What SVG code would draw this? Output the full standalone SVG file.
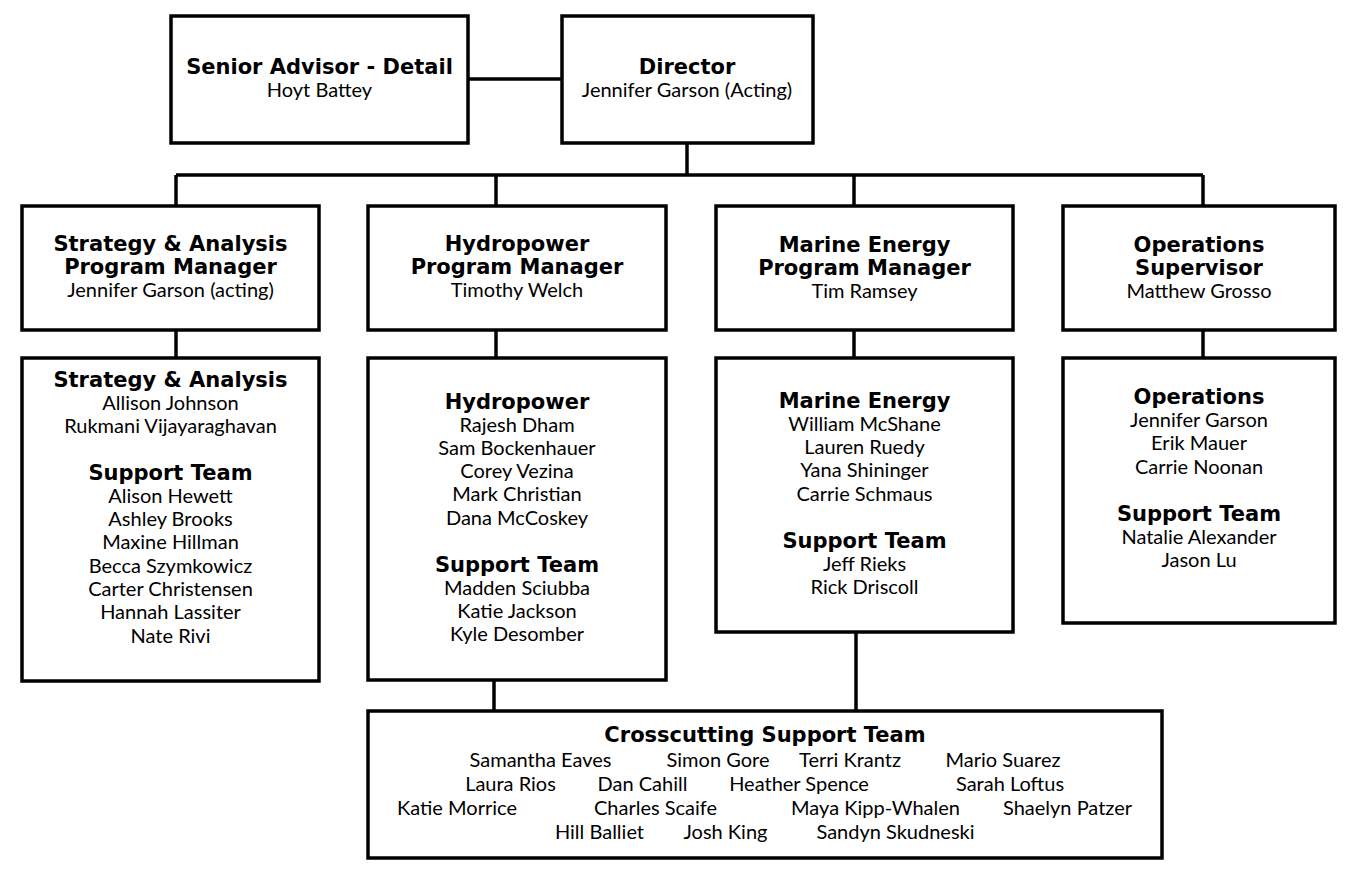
<svg xmlns="http://www.w3.org/2000/svg" width="1350" height="871" viewBox="0 0 1350 871">
<style>
.box{fill:#fff;stroke:#000;stroke-width:3.5}
.ln{stroke:#000;stroke-width:3.5;fill:none}
text{text-anchor:middle;fill:#000}
.b{font-family:"DejaVu Sans",Verdana,sans-serif;font-weight:bold;font-size:21px}
.r{font-family:Lato,"Liberation Sans",sans-serif;font-size:20px}
</style>
<rect width="1350" height="871" fill="#fff"/>
<g id="connectors">
<line class="ln" x1="468" y1="79" x2="562" y2="79"/>
<line class="ln" x1="687" y1="143" x2="687" y2="175"/>
<line class="ln" x1="176" y1="175" x2="1203" y2="175"/>
<line class="ln" x1="176" y1="175" x2="176" y2="206"/>
<line class="ln" x1="496" y1="175" x2="496" y2="206"/>
<line class="ln" x1="854" y1="175" x2="854" y2="206"/>
<line class="ln" x1="1203" y1="175" x2="1203" y2="206"/>
<line class="ln" x1="176" y1="330" x2="176" y2="358"/>
<line class="ln" x1="496" y1="330" x2="496" y2="358"/>
<line class="ln" x1="854" y1="330" x2="854" y2="358"/>
<line class="ln" x1="1203" y1="330" x2="1203" y2="358"/>
<line class="ln" x1="494" y1="680" x2="494" y2="711"/>
<line class="ln" x1="856" y1="632" x2="856" y2="711"/>
</g>
<g id="senior-advisor">
<rect class="box" x="171" y="16" width="297" height="127"/>
<text class="b" x="319.5" y="74">Senior Advisor - Detail</text>
<text class="r" x="319.5" y="97">Hoyt Battey</text>
</g>
<g id="director">
<rect class="box" x="562" y="16" width="251" height="127"/>
<text class="b" x="687" y="74">Director</text>
<text class="r" x="687" y="97">Jennifer Garson (Acting)</text>
</g>
<g id="sa-pm">
<rect class="box" x="22" y="206" width="297" height="124"/>
<text class="b" x="170.5" y="251">Strategy &amp; Analysis</text>
<text class="b" x="170.5" y="274">Program Manager</text>
<text class="r" x="170.5" y="297">Jennifer Garson (acting)</text>
</g>
<g id="hydro-pm">
<rect class="box" x="368" y="206" width="298" height="124"/>
<text class="b" x="517" y="251">Hydropower</text>
<text class="b" x="517" y="274">Program Manager</text>
<text class="r" x="517" y="297">Timothy Welch</text>
</g>
<g id="marine-pm">
<rect class="box" x="716" y="206" width="297" height="124"/>
<text class="b" x="864.5" y="252">Marine Energy</text>
<text class="b" x="864.5" y="275">Program Manager</text>
<text class="r" x="864.5" y="298">Tim Ramsey</text>
</g>
<g id="ops-sup">
<rect class="box" x="1063" y="206" width="272" height="124"/>
<text class="b" x="1199" y="252">Operations</text>
<text class="b" x="1199" y="275">Supervisor</text>
<text class="r" x="1199" y="298">Matthew Grosso</text>
</g>
<g id="sa-team">
<rect class="box" x="22" y="358" width="297" height="323"/>
<text class="b" x="170.5" y="387">Strategy &amp; Analysis</text>
<text class="r" x="170.5" y="410">Allison Johnson</text>
<text class="r" x="170.5" y="433">Rukmani Vijayaraghavan</text>
<text class="b" x="170.5" y="480">Support Team</text>
<text class="r" x="170.5" y="503">Alison Hewett</text>
<text class="r" x="170.5" y="526">Ashley Brooks</text>
<text class="r" x="170.5" y="549">Maxine Hillman</text>
<text class="r" x="170.5" y="573">Becca Szymkowicz</text>
<text class="r" x="170.5" y="596">Carter Christensen</text>
<text class="r" x="170.5" y="619">Hannah Lassiter</text>
<text class="r" x="170.5" y="643">Nate Rivi</text>
</g>
<g id="hydro-team">
<rect class="box" x="368" y="358" width="298" height="322"/>
<text class="b" x="517" y="409">Hydropower</text>
<text class="r" x="517" y="432">Rajesh Dham</text>
<text class="r" x="517" y="455">Sam Bockenhauer</text>
<text class="r" x="517" y="478">Corey Vezina</text>
<text class="r" x="517" y="501">Mark Christian</text>
<text class="r" x="517" y="525">Dana McCoskey</text>
<text class="b" x="517" y="572">Support Team</text>
<text class="r" x="517" y="595">Madden Sciubba</text>
<text class="r" x="517" y="618">Katie Jackson</text>
<text class="r" x="517" y="641">Kyle Desomber</text>
</g>
<g id="marine-team">
<rect class="box" x="716" y="358" width="297" height="274"/>
<text class="b" x="864.5" y="408">Marine Energy</text>
<text class="r" x="864.5" y="431">William McShane</text>
<text class="r" x="864.5" y="454">Lauren Ruedy</text>
<text class="r" x="864.5" y="477">Yana Shininger</text>
<text class="r" x="864.5" y="501">Carrie Schmaus</text>
<text class="b" x="864.5" y="548">Support Team</text>
<text class="r" x="864.5" y="571">Jeff Rieks</text>
<text class="r" x="864.5" y="594">Rick Driscoll</text>
</g>
<g id="ops-team">
<rect class="box" x="1063" y="358" width="272" height="265"/>
<text class="b" x="1199" y="404">Operations</text>
<text class="r" x="1199" y="427">Jennifer Garson</text>
<text class="r" x="1199" y="450">Erik Mauer</text>
<text class="r" x="1199" y="474">Carrie Noonan</text>
<text class="b" x="1199" y="521">Support Team</text>
<text class="r" x="1199" y="544">Natalie Alexander</text>
<text class="r" x="1199" y="567">Jason Lu</text>
</g>
<g id="crosscutting">
<rect class="box" x="368" y="711" width="794" height="147"/>
<text class="b" x="765" y="742">Crosscutting Support Team</text>
<text class="r" x="540.5" y="767">Samantha Eaves</text>
<text class="r" x="718" y="767">Simon Gore</text>
<text class="r" x="850" y="767">Terri Krantz</text>
<text class="r" x="1003" y="767">Mario Suarez</text>
<text class="r" x="510.5" y="791">Laura Rios</text>
<text class="r" x="642.5" y="791">Dan Cahill</text>
<text class="r" x="799" y="791">Heather Spence</text>
<text class="r" x="1010" y="791">Sarah Loftus</text>
<text class="r" x="457" y="815">Katie Morrice</text>
<text class="r" x="655.5" y="815">Charles Scaife</text>
<text class="r" x="875.5" y="815">Maya Kipp-Whalen</text>
<text class="r" x="1067.5" y="815">Shaelyn Patzer</text>
<text class="r" x="599.5" y="839">Hill Balliet</text>
<text class="r" x="725.5" y="839">Josh King</text>
<text class="r" x="895.5" y="839">Sandyn Skudneski</text>
</g>
</svg>
